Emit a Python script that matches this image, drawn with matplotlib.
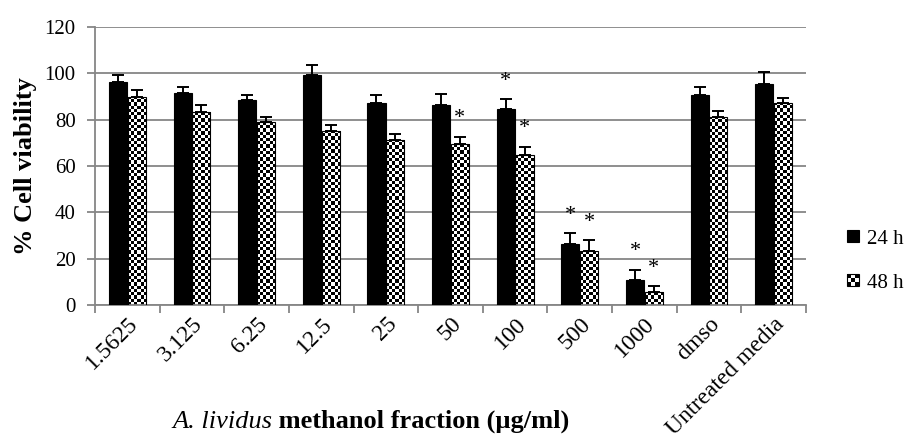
import numpy as np
import matplotlib
matplotlib.use('Agg')
import matplotlib.pyplot as plt
from matplotlib.patches import Rectangle
from matplotlib.legend_handler import HandlerBase

plt.rcParams['font.family'] = ['Liberation Serif', 'DejaVu Serif']

# ====== data ======
categories = ['1.5625', '3.125', '6.25', '12.5', '25', '50', '100', '500', '1000',
              'dmso', 'Untreated media']
h24 = [96.2, 91.7, 88.3, 99.4, 87.3, 86.4, 84.7, 26.2, 10.7, 90.6, 95.2]
h24_err = [3.0, 2.6, 2.4, 4.0, 3.3, 4.7, 4.2, 5.0, 4.6, 3.3, 5.3]
h48 = [89.8, 83.2, 78.9, 75.2, 71.4, 69.3, 64.7, 23.3, 5.5, 81.2, 87.4]
h48_err = [3.2, 3.0, 2.3, 2.3, 2.6, 3.4, 3.7, 4.6, 2.8, 2.5, 1.9]
star24 = [False, False, False, False, False, False, True, True, True, False, False]
star48 = [False, False, False, False, False, True, True, True, True, False, False]

W, H = 908, 441
fig = plt.figure(figsize=(W / 100, H / 100), dpi=100)
ax = fig.add_axes([95 / W, 1 - 305 / H, (806 - 95) / W, (305 - 27) / H])

x = np.arange(len(categories))
bw = 0.28
off = 0.145
grid_c = '#868686'

bars24 = ax.bar(x - off, h24, bw, color='black', edgecolor='black', lw=0.8, zorder=3)
bars48 = ax.bar(x + off, h48, bw, facecolor='none', edgecolor='black', lw=0.8, zorder=3)
ax.errorbar(x - off, h24, yerr=[np.zeros(len(h24)), h24_err], fmt='none',
            ecolor='black', elinewidth=1.4, capsize=4, capthick=1.4, zorder=4)
ax.errorbar(x + off, h48, yerr=[np.zeros(len(h48)), h48_err], fmt='none',
            ecolor='black', elinewidth=1.4, capsize=4, capthick=1.4, zorder=4)

ax.set_xlim(-0.5, len(categories) - 0.5)
ax.set_ylim(0, 120)

# checkerboard fill for the 48 h bars
cell = 3.2
for b in bars48:
    bx, by, bwid, bh = b.get_x(), b.get_y(), b.get_width(), b.get_height()
    p0 = ax.transData.transform((bx, by))
    p1 = ax.transData.transform((bx + bwid, by + bh))
    nc = max(1, int(round((p1[0] - p0[0]) / cell)))
    nr = max(1, int(round((p1[1] - p0[1]) / cell)))
    chk = (np.add.outer(np.arange(nr), np.arange(nc)) % 2).astype(float)
    im = ax.imshow(chk, cmap='gray', vmin=0, vmax=1, extent=(bx, bx + bwid, by, by + bh),
                   aspect='auto', interpolation='nearest', zorder=2.5, origin='lower')
    im.set_clip_path(b)
ax.set_xlim(-0.5, len(categories) - 0.5)
ax.set_ylim(0, 120)
ax.set_aspect('auto')

# significance stars
for i in range(len(categories)):
    if star24[i]:
        ax.annotate('*', (x[i] - off, h24[i] + h24_err[i]), xytext=(0, 9.5),
                    textcoords='offset points', ha='center', va='baseline', fontsize=16)
    if star48[i]:
        ax.annotate('*', (x[i] + off, h48[i] + h48_err[i]), xytext=(0, 9.5),
                    textcoords='offset points', ha='center', va='baseline', fontsize=16)

# axes styling
ax.set_yticks(np.arange(0, 121, 20))
ax.yaxis.grid(True, color=grid_c, lw=1.3, zorder=0)
ax.set_axisbelow(True)
for s in ['top', 'right']:
    ax.spines[s].set_visible(False)
for s in ['left', 'bottom']:
    ax.spines[s].set_color(grid_c)
    ax.spines[s].set_linewidth(1.3)
ax.tick_params(axis='y', length=6, width=1.3, color=grid_c, labelsize=15, pad=8)
ax.set_xticks(np.arange(-0.5, len(categories), 1.0))
ax.set_xticklabels([])
ax.tick_params(axis='x', which='major', length=6, width=1.3, color=grid_c)
ax.set_xticks(x, minor=True)
ax.set_xticklabels(categories, minor=True, rotation=45, ha='right', rotation_mode='anchor',
                   fontsize=17)
ax.tick_params(axis='x', which='minor', length=0, pad=6)

ax.set_ylabel('% Cell viability', fontsize=19, fontweight='bold')
ax.yaxis.set_label_coords(-0.0816, 0.5)

t1 = fig.text(172 / W, 1 - 428 / H, 'A. lividus', fontsize=19, style='italic', va='baseline')
ax.annotate(' methanol fraction (µg/ml)', xy=(1, 0), xycoords=t1, va='bottom',
            fontsize=19, fontweight='bold')


# legend with checker square
class CheckerHandler(HandlerBase):
    def create_artists(self, legend, orig_handle, xdescent, ydescent, width, height,
                       fontsize, trans):
        s = height
        x0 = width - s
        arts = [Rectangle((x0, -ydescent), s, s, facecolor='white', edgecolor='black',
                          lw=0.8, transform=trans)]
        n = 3
        c = s / n
        for r in range(n):
            for q in range(n):
                if (r + q) % 2 == 0:
                    arts.append(Rectangle((x0 + q * c, -ydescent + r * c), c, c,
                                          facecolor='black', lw=0, transform=trans))
        return arts


class SolidHandler(HandlerBase):
    def create_artists(self, legend, orig_handle, xdescent, ydescent, width, height,
                       fontsize, trans):
        s = height
        return [Rectangle((width - s, -ydescent), s, s, facecolor='black', edgecolor='black',
                          lw=0.8, transform=trans)]


leg = ax.legend([bars24, bars48], ['24 h', '48 h'], loc='center left',
                bbox_to_anchor=(848 / W, 1 - 261 / H), bbox_transform=fig.transFigure,
                frameon=False, fontsize=15, handlelength=0.53, handleheight=0.53,
                handletextpad=0.4, labelspacing=1.2, borderpad=0, borderaxespad=0,
                handler_map={bars24: SolidHandler(), bars48: CheckerHandler()})

fig.savefig('out.png', dpi=100)
